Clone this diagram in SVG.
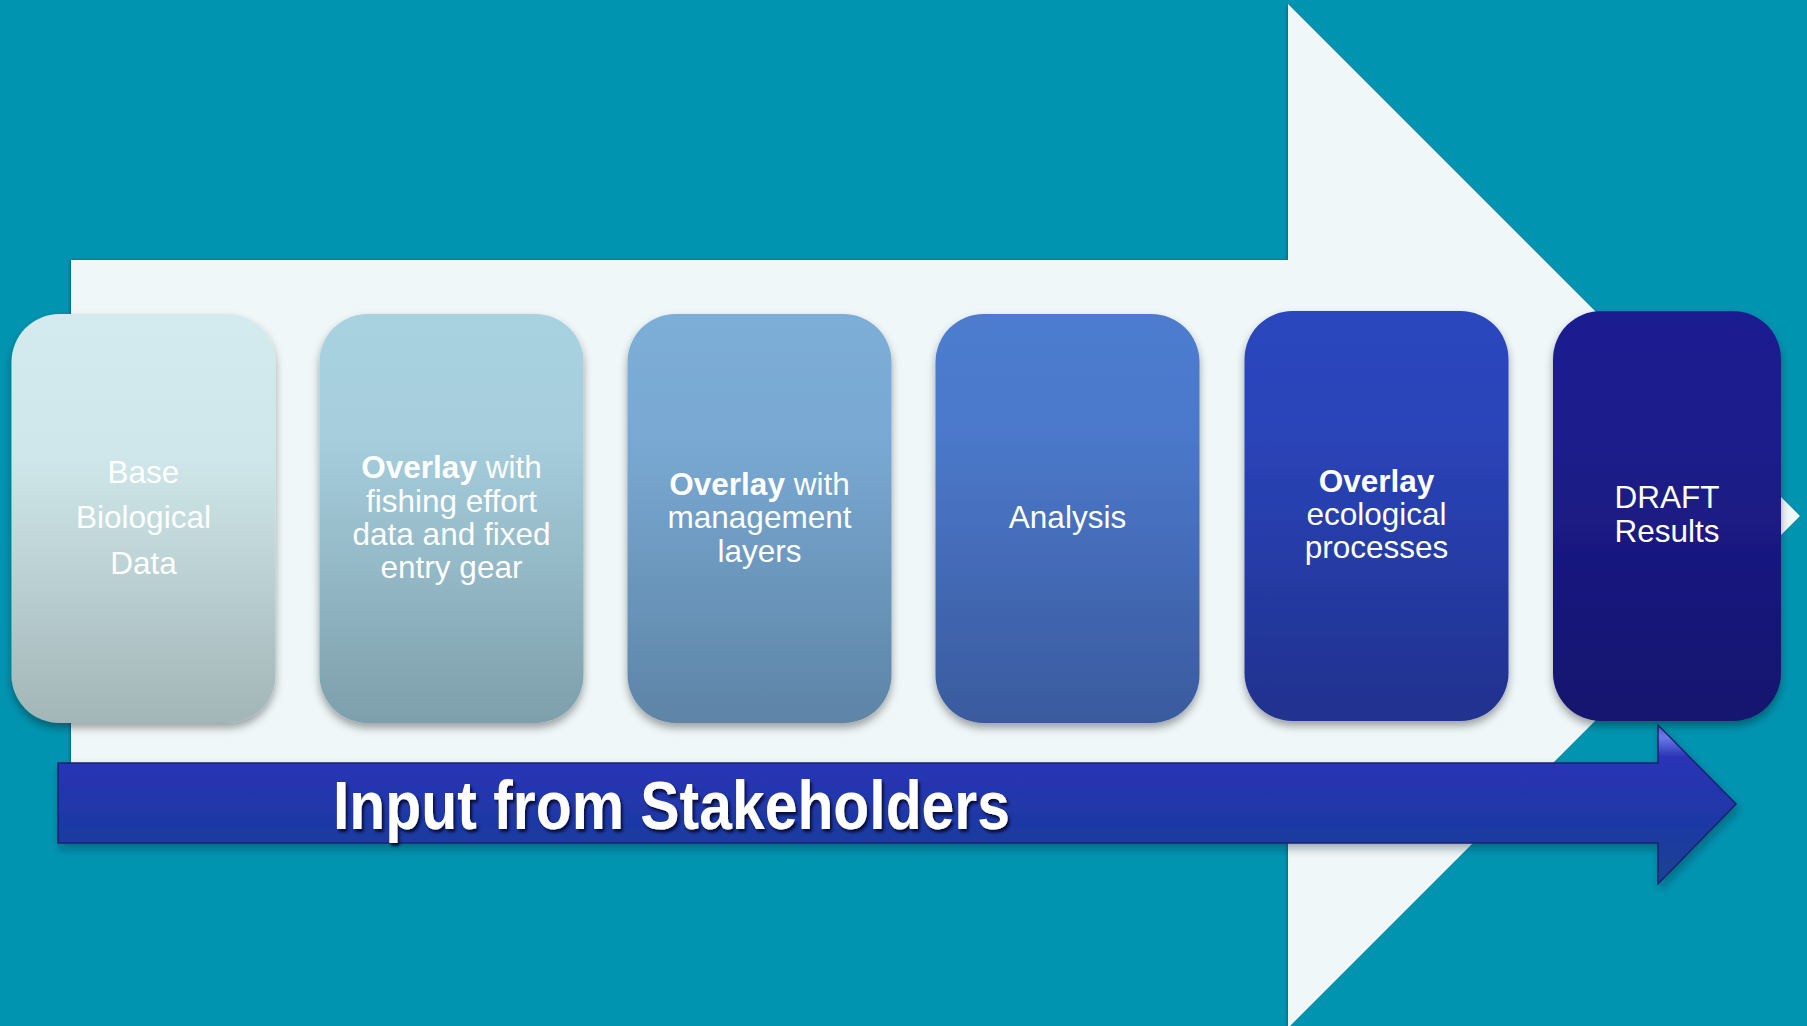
<svg xmlns="http://www.w3.org/2000/svg" width="1807" height="1026" viewBox="0 0 1807 1026">
  <defs>
    <linearGradient id="g1" x1="0" y1="0" x2="0" y2="1">
      <stop offset="0" stop-color="#D3EBEE"/><stop offset="0.35" stop-color="#CFE7EA"/><stop offset="1" stop-color="#A2B5B7"/>
    </linearGradient>
    <linearGradient id="g2" x1="0" y1="0" x2="0" y2="1">
      <stop offset="0" stop-color="#A9D2E1"/><stop offset="0.3" stop-color="#A6CEDD"/><stop offset="1" stop-color="#7E9FAC"/>
    </linearGradient>
    <linearGradient id="g3" x1="0" y1="0" x2="0" y2="1">
      <stop offset="0" stop-color="#7CAED8"/><stop offset="0.3" stop-color="#79A9D3"/><stop offset="1" stop-color="#5E84A6"/>
    </linearGradient>
    <linearGradient id="g4" x1="0" y1="0" x2="0" y2="1">
      <stop offset="0" stop-color="#4D7CCF"/><stop offset="0.3" stop-color="#4B78CA"/><stop offset="1" stop-color="#3A5A9E"/>
    </linearGradient>
    <linearGradient id="g5" x1="0" y1="0" x2="0" y2="1">
      <stop offset="0" stop-color="#2B46BE"/><stop offset="0.3" stop-color="#2A44B8"/><stop offset="1" stop-color="#20318E"/>
    </linearGradient>
    <linearGradient id="g6" x1="0" y1="0" x2="0" y2="1">
      <stop offset="0" stop-color="#1E1F91"/><stop offset="0.3" stop-color="#1D1D8C"/><stop offset="1" stop-color="#14136E"/>
    </linearGradient>
    <linearGradient id="gArrow" x1="0" y1="0" x2="0" y2="1">
      <stop offset="0" stop-color="#5A66D8"/>
      <stop offset="0.08" stop-color="#6A78E6"/>
      <stop offset="0.2" stop-color="#2A34B6"/>
      <stop offset="0.6" stop-color="#1E38A6"/>
      <stop offset="1" stop-color="#1A4290"/>
    </linearGradient>
    <filter id="shadow" x="-10%" y="-10%" width="120%" height="125%">
      <feDropShadow dx="0" dy="5" stdDeviation="4" flood-color="#000" flood-opacity="0.35"/>
    </filter>
    <filter id="edge" x="-5%" y="-5%" width="110%" height="110%">
      <feDropShadow dx="-1" dy="0" stdDeviation="1.5" flood-color="#004a60" flood-opacity="0.6"/>
    </filter>
    <filter id="arrowShadow" x="-5%" y="-20%" width="110%" height="150%">
      <feDropShadow dx="2" dy="5" stdDeviation="4" flood-color="#002030" flood-opacity="0.35"/>
    </filter>
    <filter id="textShadow" x="-5%" y="-20%" width="110%" height="150%">
      <feDropShadow dx="2" dy="3" stdDeviation="1.5" flood-color="#000020" flood-opacity="0.8"/>
    </filter>
  </defs>
  <style>
    .box { filter: url(#shadow); }
    .lbl { font-family: "Liberation Sans", Arial, sans-serif; font-size: 31.5px; fill: #FFFFFF; text-anchor: middle; }
    .b { font-weight: bold; }
    .big { font-family: "Liberation Sans", Arial, sans-serif; font-size: 68px; font-weight: bold; fill: #FFFFFF; }
  </style>

  <rect x="0" y="0" width="1807" height="1026" fill="#0194B0"/>

  <g id="big-arrow">
    <polygon points="71,260 1288,260 1288,4 1800,516 1288,1028 1288,772 71,772" fill="#EFF7F9" filter="url(#edge)"/>
  </g>

  <g id="connectors">
    <g id="stakeholder-arrow" filter="url(#arrowShadow)">
      <polygon points="58,763 1658,763 1658,725 1736,804 1658,884 1658,843 58,843" fill="url(#gArrow)" stroke="#1B2272" stroke-width="1.5" stroke-linejoin="miter"/>
    </g>
    <text class="big" x="333" y="829" textLength="677" lengthAdjust="spacingAndGlyphs" filter="url(#textShadow)">Input from Stakeholders</text>
  </g>

  <g id="node1">
    <rect class="box" x="11.5" y="314" width="264" height="409" rx="48" ry="48" fill="url(#g1)"/>
    <text class="lbl" x="143.5" y="483">Base</text>
    <text class="lbl" x="143.5" y="528">Biological</text>
    <text class="lbl" x="143.5" y="574">Data</text>
  </g>

  <g id="node2">
    <rect class="box" x="319.5" y="314" width="264" height="409" rx="48" ry="48" fill="url(#g2)"/>
    <text class="lbl" x="451.5" y="478"><tspan class="b">Overlay</tspan> with</text>
    <text class="lbl" x="451.5" y="512">fishing effort</text>
    <text class="lbl" x="451.5" y="545">data and fixed</text>
    <text class="lbl" x="451.5" y="578">entry gear</text>
  </g>

  <g id="node3">
    <rect class="box" x="627.5" y="314" width="264" height="409" rx="48" ry="48" fill="url(#g3)"/>
    <text class="lbl" x="759.5" y="495"><tspan class="b">Overlay</tspan> with</text>
    <text class="lbl" x="759.5" y="528">management</text>
    <text class="lbl" x="759.5" y="562">layers</text>
  </g>

  <g id="node4">
    <rect class="box" x="935.5" y="314" width="264" height="409" rx="48" ry="48" fill="url(#g4)"/>
    <text class="lbl" x="1067.5" y="528">Analysis</text>
  </g>

  <g id="node5">
    <rect class="box" x="1244.5" y="311" width="264" height="410" rx="48" ry="48" fill="url(#g5)"/>
    <text class="lbl b" x="1376.5" y="492">Overlay</text>
    <text class="lbl" x="1376.5" y="525">ecological</text>
    <text class="lbl" x="1376.5" y="558">processes</text>
  </g>

  <g id="node6">
    <rect class="box" x="1553" y="311" width="228" height="410" rx="48" ry="48" fill="url(#g6)"/>
    <text class="lbl" x="1667" y="508">DRAFT</text>
    <text class="lbl" x="1667" y="542">Results</text>
  </g>
</svg>
